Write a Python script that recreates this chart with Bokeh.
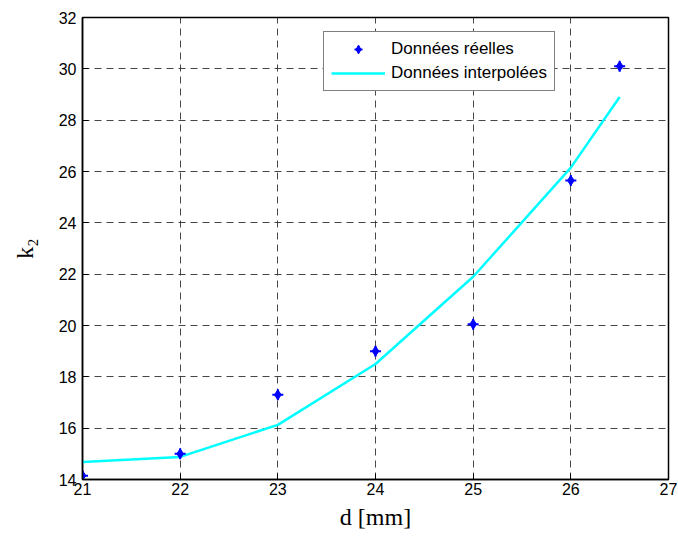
from bokeh.plotting import figure
from bokeh.models import Range1d, FixedTicker, Legend, LegendItem
from bokeh.embed import file_html
from bokeh.resources import INLINE

x_reel = [21, 22, 23, 24, 25, 26, 26.5]
k2_reel = [14.15, 15.0, 17.3, 19.0, 20.05, 25.65, 30.1]
k2_interp = [14.68, 14.88, 16.13, 18.5, 21.9, 26.15, 28.9]
x_ticks = [21, 22, 23, 24, 25, 26, 27]
y_ticks = [14, 16, 18, 20, 22, 24, 26, 28, 30, 32]

p = figure(width=678, height=534, output_backend="svg", toolbar_location=None,
           x_range=Range1d(21, 27), y_range=Range1d(14, 32),
           min_border_left=82, min_border_right=10, min_border_top=17, min_border_bottom=55)

p.background_fill_color = "white"
p.border_fill_color = "white"
p.outline_line_color = "black"
p.outline_line_width = 1.5

for ax in (p.xaxis, p.yaxis):
    ax.axis_line_color = "black"
    ax.axis_line_width = 1.5
    ax.major_tick_in = 6
    ax.major_tick_out = 0
    ax.minor_tick_line_color = None
    ax.major_tick_line_color = "black"
    ax.major_label_text_font = "Liberation Sans"
    ax.major_label_text_font_size = "16px"
    ax.major_label_text_color = "black"
    ax.axis_label_text_font = "Liberation Serif"
    ax.axis_label_text_font_size = "24px"
    ax.axis_label_text_font_style = "normal"
    ax.axis_label_text_color = "black"

p.xaxis.ticker = FixedTicker(ticks=x_ticks)
p.yaxis.ticker = FixedTicker(ticks=y_ticks)
p.xaxis.major_label_standoff = 3
p.yaxis.major_label_standoff = 6
p.xaxis.axis_label = "d [mm]"
p.xaxis.axis_label_standoff = 6
p.yaxis.axis_label = "k₂"
p.yaxis.axis_label_standoff = 18

for g in (p.xgrid, p.ygrid):
    g.grid_line_color = "#333333"
    g.grid_line_alpha = 0.9
    g.grid_line_dash = "7 5"
    g.grid_line_width = 1

r_line = p.line(x_reel, k2_interp, line_color="#00FFFF", line_width=2.5)
r_dia = p.scatter(x_reel, k2_reel, marker="diamond", size=10, fill_color="blue", line_color="blue")
r_cross = p.scatter(x_reel, k2_reel, marker="cross", size=11, line_color="blue", line_width=2)

legend = Legend(items=[
    LegendItem(label="Données réelles", renderers=[r_dia, r_cross]),
    LegendItem(label="Données interpolées", renderers=[r_line]),
], location=(241, 388))
legend.label_text_font = "Liberation Sans"
legend.label_text_font_size = "17px"
legend.label_text_color = "black"
legend.border_line_color = "black"
legend.border_line_width = 1
legend.background_fill_alpha = 1
legend.glyph_width = 54
legend.glyph_height = 20
legend.spacing = 4
legend.padding = 7
legend.margin = 0
legend.label_standoff = 6
p.add_layout(legend, "center")

open("out.html", "w").write(file_html(p, INLINE))
